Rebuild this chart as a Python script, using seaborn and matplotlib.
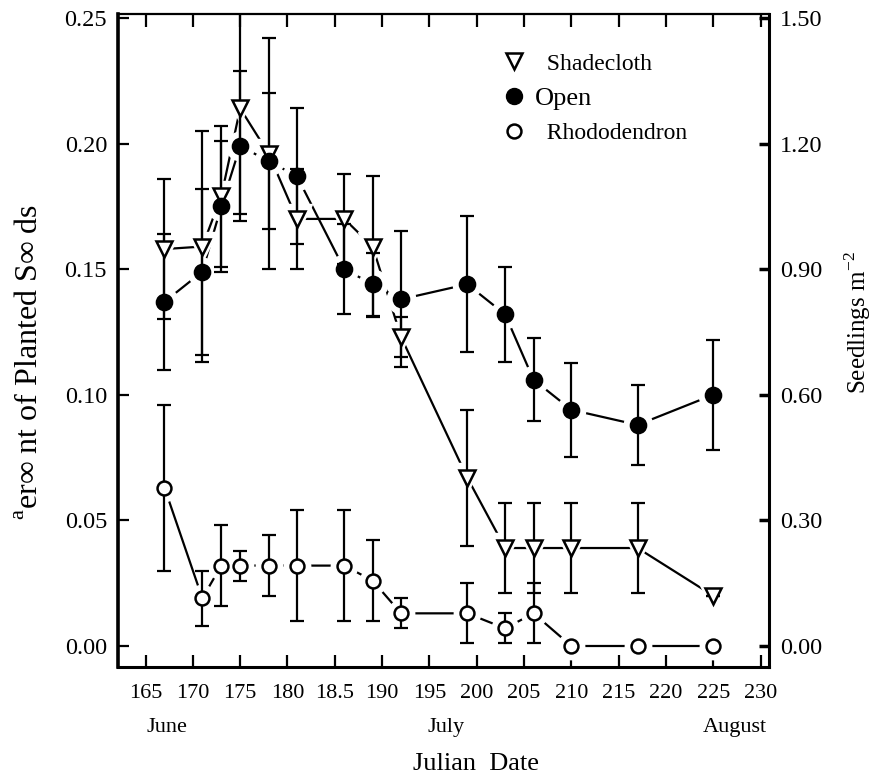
import numpy as np
import pandas as pd
import seaborn as sns
import matplotlib.pyplot as plt
from matplotlib.lines import Line2D
from matplotlib.ticker import FixedLocator, FixedFormatter

# Julian day of each census
days = [167, 171, 173, 175, 178, 181, 186, 189, 192, 199, 203, 206, 210, 217, 225]

# fraction of planted seeds present as seedlings (means and error bars)
shade = [0.158, 0.159, 0.179, 0.214, 0.196, 0.170, 0.170, 0.159, 0.123, 0.067, 0.039, 0.039, 0.039, 0.039, 0.020]
shade_err = [0.028, 0.046, 0.028, 0.042, 0.046, 0.020, 0.018, 0.028, 0.008, 0.027, 0.018, 0.018, 0.018, 0.018, 0.0]
open_ = [0.137, 0.149, 0.175, 0.199, 0.193, 0.187, 0.150, 0.144, 0.138, 0.144, 0.132, 0.106, 0.094, 0.088, 0.100]
open_err = [0.027, 0.033, 0.026, 0.030, 0.027, 0.027, 0.018, 0.0125, 0.027, 0.027, 0.019, 0.0165, 0.0186, 0.016, 0.022]
rhodo = [0.063, 0.019, 0.032, 0.032, 0.032, 0.032, 0.032, 0.026, 0.013, 0.013, 0.007, 0.013, 0.0, 0.0, 0.0]
rhodo_err = [0.033, 0.011, 0.016, 0.006, 0.012, 0.022, 0.022, 0.016, 0.006, 0.012, 0.006, 0.012, 0.0, 0.0, 0.0]

xticks = [165, 170, 175, 180, 185, 190, 195, 200, 205, 210, 215, 220, 225, 230]
xtick_labels = ["165", "170", "175", "180", "18.5", "190", "195", "200", "205", "210", "215", "220", "225", "230"]
yticks = [0.00, 0.05, 0.10, 0.15, 0.20, 0.25]
ytick_labels = ["0.00", "0.05", "0.10", "0.15", "0.20", "0.25"]
y2ticks = [0.0, 0.3, 0.6, 0.9, 1.2, 1.5]
y2tick_labels = ["0.00", "0.30", "0.60", "0.90", "1.20", "1.50"]
months = ["June", "July", "August"]
month_days = [167.3, 196.8, 227.3]

sns.set_theme(style="ticks")
plt.rcParams["font.family"] = ["Liberation Serif", "DejaVu Serif"]
plt.rcParams["mathtext.fontset"] = "custom"
plt.rcParams["mathtext.rm"] = "Liberation Serif"
plt.rcParams["text.color"] = "black"
plt.rcParams["axes.labelcolor"] = "black"

df = pd.concat([
    pd.DataFrame({"day": days, "val": shade, "err": shade_err, "trt": "Shadecloth"}),
    pd.DataFrame({"day": days, "val": open_, "err": open_err, "trt": "Open"}),
    pd.DataFrame({"day": days, "val": rhodo, "err": rhodo_err, "trt": "Rhododendron"}),
])

fig = plt.figure(figsize=(8.75, 7.73), dpi=100)
ax = fig.add_axes([0.135, 0.137, 0.744, 0.845])

sns.lineplot(data=df, x="day", y="val", hue="trt", palette=["black"] * 3,
             linewidth=1.6, legend=False, ax=ax, zorder=1, sort=False)

styles = {
    "Shadecloth": dict(marker="v", ms=12, mfc="white", mew=1.8),
    "Open": dict(marker="o", ms=11.5, mfc="black", mew=1.2),
    "Rhododendron": dict(marker="o", ms=10, mfc="white", mew=1.8),
}
for trt, st in styles.items():
    d = df[df["trt"] == trt]
    # white halo so the joining lines stop short of the symbols
    ax.plot(d["day"], d["val"], ls="none", marker=st["marker"], ms=st["ms"] + 9,
            mfc="white", mec="white", zorder=2)
for trt, st in styles.items():
    d = df[df["trt"] == trt]
    ax.errorbar(d["day"], d["val"], yerr=d["err"], fmt="none", ecolor="black",
                elinewidth=1.6, capsize=5, capthick=1.6, zorder=3)
for trt, st in styles.items():
    d = df[df["trt"] == trt]
    ax.plot(d["day"], d["val"], ls="none", marker=st["marker"], ms=st["ms"],
            mfc=st["mfc"], mec="black", mew=st["mew"], zorder=4)

ax.set_xlim(162.1, 230.9)
ax.set_ylim(-0.0084, 0.2516)
ax.xaxis.set_major_locator(FixedLocator(xticks))
ax.xaxis.set_major_formatter(FixedFormatter(xtick_labels))
ax.yaxis.set_major_locator(FixedLocator(yticks))
ax.yaxis.set_major_formatter(FixedFormatter(ytick_labels))
ax.tick_params(axis="x", direction="in", length=9, width=1.6, top=True,
               labelsize=16, pad=12, colors="black")
ax.tick_params(axis="y", direction="in", length=8, width=1.6, labelsize=17.5,
               pad=8, colors="black")
ax.set_xlabel("Julian  Date", fontsize=19)
ax.xaxis.set_label_coords(0.55, -0.131)
ax.set_ylabel("$^{\\mathrm{a}}$er∞ nt of Planted S∞ ds", fontsize=23)
ax.yaxis.set_label_coords(-0.113, 0.467)

for sp, lw in [("left", 2.6), ("bottom", 2.2), ("right", 2.2), ("top", 1.6)]:
    ax.spines[sp].set_visible(True)
    ax.spines[sp].set_linewidth(lw)
    ax.spines[sp].set_color("black")

ax2 = ax.twinx()
ax2.set_ylim(-0.0084 * 6, 0.2516 * 6)
ax2.yaxis.set_major_locator(FixedLocator(y2ticks))
ax2.yaxis.set_major_formatter(FixedFormatter(y2tick_labels))
ax2.tick_params(axis="y", direction="in", length=7, width=2.5, labelsize=17.5,
                pad=8, colors="black")
ax2.set_ylabel("Seedlings m$^{\\mathrm{-2}}$", fontsize=18)
ax2.yaxis.set_label_coords(1.112, 0.527)
for sp in ax2.spines.values():
    sp.set_visible(False)

trans = ax.get_xaxis_transform()
for m, d in zip(months, month_days):
    ax.text(d, -0.093, m, transform=trans, ha="center", va="center", fontsize=16)

handles = [
    Line2D([], [], ls="none", marker="v", ms=12, mfc="white", mec="black", mew=1.8),
    Line2D([], [], ls="none", marker="o", ms=11.5, mfc="black", mec="black"),
    Line2D([], [], ls="none", marker="o", ms=10, mfc="white", mec="black", mew=1.8),
]
leg = ax.legend(handles, ["  Shadecloth", "Open", "  Rhododendron"], loc="upper left",
                bbox_to_anchor=(0.59, 0.94), frameon=False, fontsize=17,
                handlelength=1.0, handletextpad=0.4, labelspacing=0.55,
                borderpad=0, borderaxespad=0)
leg.get_texts()[1].set_fontsize(19)

fig.savefig("out.png", dpi=100)
